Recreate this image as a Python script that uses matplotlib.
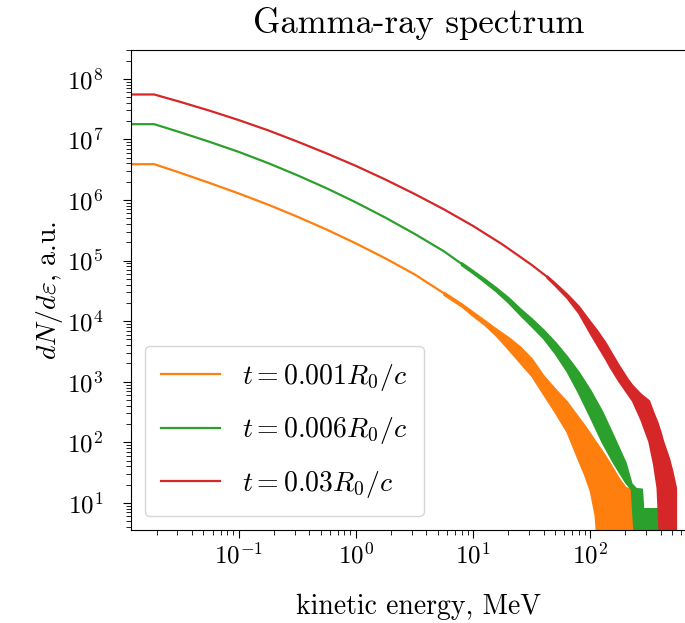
import matplotlib
matplotlib.use('Agg')
import matplotlib.pyplot as plt
from matplotlib.ticker import LogLocator, NullFormatter

# =====================================================================
# Font setup: Computer Modern look
# =====================================================================
plt.rcParams['font.family'] = 'serif'
plt.rcParams['font.serif'] = ['cmr10']
plt.rcParams['mathtext.fontset'] = 'cm'
plt.rcParams['axes.unicode_minus'] = False
plt.rcParams['axes.formatter.use_mathtext'] = True

# =====================================================================
# Data (energy in MeV, dN/de in a.u.)
# Smooth part of each spectrum
# =====================================================================
e_001 = [0.012, 0.019, 0.0316, 0.0562, 0.1, 0.178, 0.316, 0.562, 1.0, 1.78, 3.16, 5.62]
n_001 = [3.89e6, 3.89e6, 2.81e6, 1.91e6, 1.28e6, 8.36e5, 5.30e5, 3.25e5, 1.92e5, 1.09e5,
         5.94e4, 2.90e4]

e_006 = [0.012, 0.019, 0.0316, 0.0562, 0.1, 0.178, 0.316, 0.562, 1.0, 1.78, 3.16, 5.62, 7.94]
n_006 = [1.78e7, 1.78e7, 1.31e7, 9.12e6, 6.21e6, 4.06e6, 2.56e6, 1.56e6, 9.12e5, 5.13e5,
         2.77e5, 1.43e5, 8.9e4]

e_03 = [0.012, 0.019, 0.0316, 0.0562, 0.1, 0.178, 0.316, 0.562, 1.0, 1.78, 3.16, 5.62,
        10, 17.8, 31.6, 42.7]
n_03 = [5.50e7, 5.50e7, 4.16e7, 2.98e7, 2.08e7, 1.41e7, 9.21e6, 5.87e6, 3.65e6, 2.18e6,
        1.26e6, 7.03e5, 3.73e5, 1.85e5, 8.51e4, 5.43e4]

# Noisy high-energy tails: lower / upper envelope of the band
tail_e_001 = [5.62, 7.94, 10, 12.6, 15.8, 20, 25.1, 31.6, 39.8, 50.1, 63.1, 79.4, 89.1,
              100, 110, 115, 126, 148, 174, 200, 224, 240]
tail_hi_001 = [3.02e4, 1.95e4, 1.41e4, 1.02e4, 7.4e3, 5.4e3, 3.8e3, 2.4e3, 1.26e3, 760,
               468, 257, 191, 138, 105, 93, 72, 44, 26, 18, 17, 8.1]
tail_lo_001 = [2.75e4, 1.78e4, 1.23e4, 8.7e3, 5.75e3, 3.47e3, 2.09e3, 1.26e3, 630, 316,
               151, 51, 30, 16, 6.3, 2, 1, 1, 1, 1, 1, 1]

tail_e_006 = [7.94, 10, 12.6, 15.8, 20, 25.1, 31.6, 39.8, 50.1, 63.1, 79.4, 100, 126, 158,
              200, 224, 245, 275, 282, 380]
tail_hi_006 = [9.3e4, 6.8e4, 4.95e4, 3.55e4, 2.45e4, 1.62e4, 1.10e4, 7.2e3, 4.5e3, 2.63e3,
               1.45e3, 724, 324, 126, 46, 21, 17.4, 17, 8.1, 8.1]
tail_lo_006 = [8.5e4, 6.2e4, 4.4e4, 3.1e4, 2.04e4, 1.29e4, 8.3e3, 5.25e3, 2.95e3, 1.51e3,
               660, 263, 102, 46, 22, 17, 1, 1, 1, 1]

tail_e_03 = [42.7, 50.1, 63.1, 79.4, 100, 115, 135, 148, 174, 209, 229, 269, 316, 347, 372,
             398, 417, 468, 501, 537]
tail_hi_03 = [5.6e4, 4.27e4, 2.82e4, 1.78e4, 9.8e3, 6.9e3, 4.4e3, 3.24e3, 1.91e3, 1.10e3,
              870, 630, 490, 302, 219, 145, 105, 55, 33, 17.8]
tail_lo_03 = [5.25e4, 3.89e4, 2.45e4, 1.38e4, 6.3e3, 4.0e3, 2.4e3, 1.74e3, 1.05e3, 630,
              490, 245, 105, 44, 17.8, 1, 1, 1, 1, 1]

x_ticks = [0.1, 1, 10, 100]
y_ticks = [1e1, 1e2, 1e3, 1e4, 1e5, 1e6, 1e7, 1e8]

labels = [r'$t = 0.001 R_0/c$', r'$t = 0.006 R_0/c$', r'$t = 0.03 R_0/c$']
colors = ['#ff7f0e', '#2ca02c', '#d62728']


def main():
    fig = plt.figure(figsize=(6.85, 6.23), dpi=100)
    ax = fig.add_axes([0.191, 0.149, 0.84, 0.771])

    series = [
        (e_001, n_001, tail_e_001, tail_lo_001, tail_hi_001),
        (e_006, n_006, tail_e_006, tail_lo_006, tail_hi_006),
        (e_03, n_03, tail_e_03, tail_lo_03, tail_hi_03),
    ]
    for (e, n, te, tlo, thi), lab, col in zip(series, labels, colors):
        ax.plot(e, n, color=col, lw=1.6, label=lab)
        ax.fill_between(te, tlo, thi, color=col, lw=1.4, edgecolor=col)

    ax.set_xscale('log')
    ax.set_yscale('log')
    ax.set_xlim(0.012, 980)
    ax.set_ylim(3.55, 3.0e8)

    # only the decades inside the view get a label
    ax.set_xticks(x_ticks)
    ax.set_yticks(y_ticks)
    ax.xaxis.set_minor_locator(LogLocator(base=10, subs=range(2, 10), numticks=100))
    ax.xaxis.set_minor_formatter(NullFormatter())
    ax.yaxis.set_minor_locator(LogLocator(base=10, subs=range(2, 10), numticks=100))
    ax.yaxis.set_minor_formatter(NullFormatter())
    ax.tick_params(which='major', labelsize=18, length=6)
    ax.tick_params(axis='y', which='major', pad=14)
    ax.tick_params(axis='x', which='major', pad=3)
    ax.tick_params(which='minor', length=3.5)
    ax.spines['right'].set_visible(False)

    ax.set_title('Gamma-ray spectrum', fontsize=25, pad=12)
    ax.set_xlabel('kinetic energy, MeV', fontsize=20, labelpad=18)
    ax.set_ylabel(r'$dN/d\varepsilon$, a.u.', fontsize=20, labelpad=1)

    ax.legend(loc='lower left', fontsize=20, handlelength=2.1, labelspacing=0.8,
              borderaxespad=0.5, borderpad=0.6)

    fig.savefig('out.png', dpi=100)
    plt.close(fig)


if __name__ == '__main__':
    main()
